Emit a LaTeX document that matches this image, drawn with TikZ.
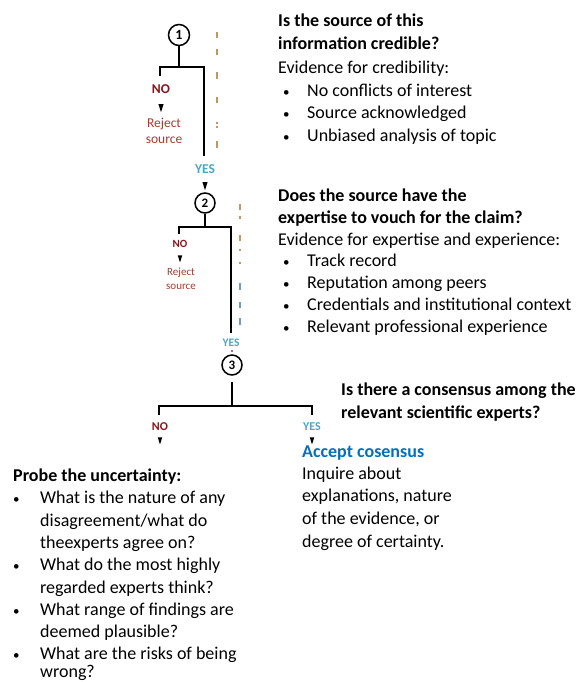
\documentclass[tikz,border=0pt]{standalone}
\usepackage{fontspec}
\setmainfont{Carlito}
\usetikzlibrary{shapes.geometric}
\definecolor{nored}{RGB}{140,20,25}
\definecolor{rejred}{RGB}{168,58,48}
\definecolor{yesblue}{RGB}{78,164,200}
\definecolor{accblue}{RGB}{0,112,192}
\definecolor{dashbrown}{RGB}{196,150,95}
\definecolor{dashblue}{RGB}{110,155,190}
\begin{document}
\begin{tikzpicture}[x=1pt,y=-1pt,
  txt/.style={anchor=base west, inner sep=0pt, font=\fontsize{18}{20}\selectfont},
  btxt/.style={anchor=base west, inner sep=0pt, font=\fontsize{18}{20}\selectfont\bfseries},
  bul/.style={anchor=base west, inner sep=0pt, font=\fontsize{13}{13}\selectfont},
  treeline/.style={line width=2pt},
  circ/.style={circle, draw, line width=1.5pt, minimum size=21pt, inner sep=0pt, font=\fontsize{14}{14}\selectfont\bfseries},
  nolab/.style={inner sep=0pt, text=nored, font=\fontsize{13.5}{13.5}\selectfont\bfseries},
  yeslab/.style={inner sep=0pt, text=yesblue, font=\fontsize{13.5}{13.5}\selectfont\bfseries},
  rejlab/.style={inner sep=0pt, text=rejred, align=center, font=\fontsize{13.5}{16.5}\selectfont},
  downtri/.style={isosceles triangle, isosceles triangle apex angle=36, shape border rotate=270, fill=black, inner sep=0pt, minimum height=8pt, minimum width=5pt},
  artdash/.style={line width=1.3pt}
]
\useasboundingbox (0,0) rectangle (576,682);

% ---------- stage 1 ----------
\node[circ] (c1) at (179,35) {1};
\coordinate (j1) at (179,67);
\coordinate (l1) at (160,76);
\coordinate (r1) at (204,156);
\draw[treeline] (c1) -- (j1);
\draw[treeline] (l1) -- (l1 |- j1) -- (r1 |- j1) -- (r1);
\node[nolab] (no1) at (161,89) {NO};
\node[downtri] (t1) at (161,106) {};
\node[rejlab] (rej1) at (164,131) {Reject\\source};
\node[yeslab] (yes1) at (205,169) {YES};
\node[downtri] (t2) at (205,184) {};
\draw[artdash, dashbrown] (217,32) -- (217,38) (217,49) -- (217,55) (217,72) -- (217,79)
  (217,97) -- (217,103) (217,122) -- (217,124) (217,126) -- (217,128) (217,141) -- (217,148);

\node[btxt] (h1a) at (278,27) {Is the source of this};
\node[btxt] (h1b) at (278,50) {information credible?};
\node[txt] (e1) at (278,74) {Evidence for credibility:};
\node[bul] (b1a) at (283,97) {•};
\node[txt] (i1a) at (307,97) {No conflicts of interest};
\node[bul] (b1b) at (283,119) {•};
\node[txt] (i1b) at (307,119) {Source acknowledged};
\node[bul] (b1c) at (283,141) {•};
\node[txt] (i1c) at (307,141) {Unbiased analysis of topic};

% ---------- stage 2 ----------
\node[circ, minimum size=20pt, font=\fontsize{13}{13}\selectfont\bfseries] (c2) at (205,203) {2};
\coordinate (j2) at (205,227);
\coordinate (l2) at (179,234);
\coordinate (r2) at (231,333);
\draw[treeline, line width=1.8pt] (c2) -- (j2);
\draw[treeline, line width=1.8pt] (l2) -- (l2 |- j2) -- (r2 |- j2) -- (r2);
\node[nolab, font=\fontsize{11}{11}\selectfont\bfseries] (no2) at (180,244) {NO};
\node[downtri, minimum height=7pt, minimum width=4.5pt] (t3) at (180,257) {};
\node[rejlab, font=\fontsize{11}{14.5}\selectfont] (rej2) at (181,279) {Reject\\source};
\node[yeslab, font=\fontsize{11.5}{11.5}\selectfont\bfseries] (yes2) at (231,343) {YES};
\node[circle, fill=black, inner sep=0pt, minimum size=1.6pt] (t4) at (232,351) {};
\draw[artdash, dashbrown] (240,204) -- (240,210) (240,216) -- (240,219) (240,235) -- (240,241)
  (240,249) -- (240,251) (240,262) -- (240,264);
\draw[artdash, dashblue] (240,283) -- (240,290) (240,302) -- (240,308) (240,318) -- (240,325);

\node[btxt] (h2a) at (278,201) {Does the source have the};
\node[btxt] (h2b) at (278,223) {expertise to vouch for the claim?};
\node[txt] (e2) at (278,245) {Evidence for expertise and experience:};
\node[bul] (b2a) at (283,266) {•};
\node[txt] (i2a) at (307,266) {Track record};
\node[bul] (b2b) at (283,288) {•};
\node[txt] (i2b) at (307,288) {Reputation among peers};
\node[bul] (b2c) at (283,310) {•};
\node[txt] (i2c) at (307,310) {Credentials and institutional context};
\node[bul] (b2d) at (283,332) {•};
\node[txt] (i2d) at (307,332) {Relevant professional experience};

% ---------- stage 3 ----------
\node[circ, minimum size=20pt, font=\fontsize{13}{13}\selectfont\bfseries] (c3) at (232,365) {3};
\coordinate (j3) at (232,406);
\coordinate (l3) at (159,415);
\coordinate (r3) at (312,415);
\draw[treeline, line width=1.6pt] (c3) ++(0,17) coordinate (c3s) -- (j3);
\draw[treeline, line width=1.6pt] (l3) -- (l3 |- j3) -- (r3 |- j3) -- (r3);
\node[nolab, font=\fontsize{12}{12}\selectfont\bfseries] (no3) at (160,427) {NO};
\node[downtri, minimum height=7pt, minimum width=4.5pt] (t5) at (160,439) {};
\node[yeslab, font=\fontsize{12}{12}\selectfont\bfseries] (yes3) at (312,427) {YES};
\node[downtri, minimum height=7pt, minimum width=4.5pt] (t6) at (312,439) {};

\node[btxt] (h3a) at (341,395) {Is there a consensus among the};
\node[btxt] (h3b) at (341,418) {relevant scientific experts?};

\node[btxt, text=accblue] (acc) at (302,457) {Accept cosensus};
\node[txt] (q1) at (302,479) {Inquire about};
\node[txt] (q2) at (302,501) {explanations, nature};
\node[txt] (q3) at (302,524) {of the evidence, or};
\node[txt] (q4) at (302,547) {degree of certainty.};

\node[btxt] (pr) at (13,481) {Probe the uncertainty:};
\node[bul] (p1b) at (13,503) {•};
\node[txt] (p1) at (40,503) {What is the nature of any};
\node[txt] (p1c) at (40,526) {disagreement/what do};
\node[txt] (p1d) at (40,548) {theexperts agree on?};
\node[bul] (p2b) at (13,570) {•};
\node[txt] (p2) at (40,570) {What do the most highly};
\node[txt] (p2c) at (40,593) {regarded experts think?};
\node[bul] (p3b) at (13,615) {•};
\node[txt] (p3) at (40,615) {What range of findings are};
\node[txt] (p3c) at (40,637) {deemed plausible?};
\node[bul] (p4b) at (13,659) {•};
\node[txt] (p4) at (40,659) {What are the risks of being};
\node[txt] (p4c) at (40,677) {wrong?};
\end{tikzpicture}
\end{document}
